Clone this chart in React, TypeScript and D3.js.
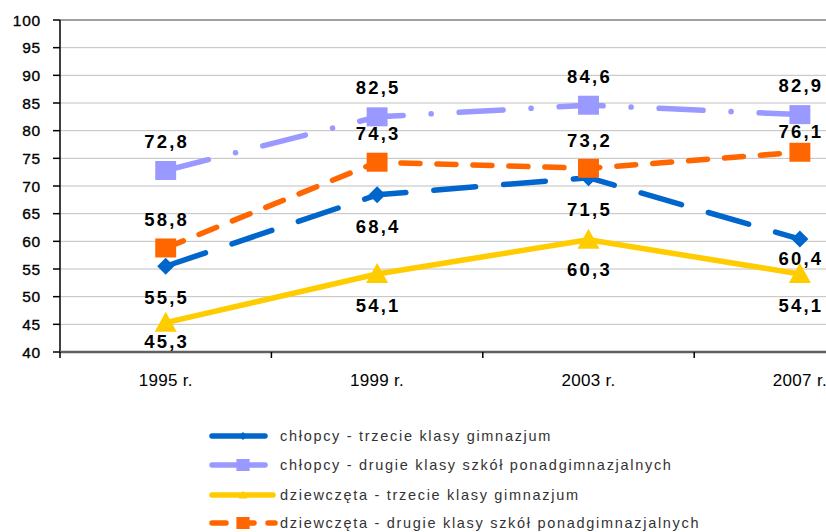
import React from "react";
import * as d3 from "d3";

const categories = ["1995 r.", "1999 r.", "2003 r.", "2007 r."];
const chlopcyGim = [55.5, 68.4, 71.5, 60.4];
const chlopcyPonad = [72.8, 82.5, 84.6, 82.9];
const dziewGim = [45.3, 54.1, 60.3, 54.1];
const dziewPonad = [58.8, 74.3, 73.2, 76.1];
const yTicks = [40, 45, 50, 55, 60, 65, 70, 75, 80, 85, 90, 95, 100];
const seriesNames = [
  "chłopcy - trzecie klasy gimnazjum",
  "chłopcy - drugie klasy szkół ponadgimnazjalnych",
  "dziewczęta - trzecie klasy gimnazjum",
  "dziewczęta - drugie klasy szkół ponadgimnazjalnych",
];

type Series = {
  name: string;
  values: number[];
  color: string;
  dash: string | null;
  legendDash: string | null;
  marker: "diamond" | "square" | "triangle";
  labelDy: number[];
};

const series: Series[] = [
  { name: seriesNames[0], values: chlopcyGim, color: "#0066cc", dash: "42,28", legendDash: null, marker: "diamond", labelDy: [31, 31, 32, 19] },
  { name: seriesNames[1], values: chlopcyPonad, color: "#9999ff", dash: "44,28,0.1,28", legendDash: null, marker: "square", labelDy: [-29, -29, -29, -29] },
  { name: seriesNames[2], values: dziewGim, color: "#ffcc00", dash: null, legendDash: null, marker: "triangle", labelDy: [19, 31, 30, 31] },
  { name: seriesNames[3], values: dziewPonad, color: "#ff6600", dash: "19,17", legendDash: "14,14", marker: "square", labelDy: [-29, -29, -28, -21] },
];

const left = 60;
const top = 20;
const bottom = 352;
const band = 211.4;

const x = d3.scaleBand<string>().domain(categories).range([left, left + band * categories.length]).padding(0);
const y = d3.scaleLinear().domain([40, 100]).range([bottom, top]);
const cx = (c: string) => (x(c) as number) + x.bandwidth() / 2;

function Marker({ kind, px, py, color, s }: { kind: string; px: number; py: number; color: string; s: number }) {
  if (kind === "square") {
    return <rect x={px - s * 0.55} y={py - s / 2} width={s * 1.1} height={s} fill={color} />;
  }
  if (kind === "diamond") {
    const r = s * 0.5;
    return <path d={`M${px},${py - r}L${px + r},${py}L${px},${py + r}L${px - r},${py}Z`} fill={color} />;
  }
  const h = s;
  return <path d={`M${px},${py - h * 0.55}L${px + s * 0.55},${py + h * 0.45}L${px - s * 0.55},${py + h * 0.45}Z`} fill={color} />;
}

export default function App() {
  const line = d3
    .line<number>()
    .x((_, i) => cx(categories[i]))
    .y((v) => y(v));
  const markerSize: Record<string, number> = { square: 19, diamond: 17, triangle: 20 };
  const legendMarker: Record<string, number> = { square: 12, diamond: 8, triangle: 8 };
  const legendY = [436, 465, 495, 523];
  return (
    <svg
      width={826}
      height={532}
      style={{ position: "absolute", left: 0, top: 0, background: "#fff" }}
      fontFamily="Liberation Sans, Arial, sans-serif"
    >
      <rect width={826} height={532} fill="#fff" />
      {/* gridlines */}
      {yTicks.slice(1, -1).map((t) => (
        <line key={t} x1={left} x2={826} y1={y(t)} y2={y(t)} stroke="#c0c0c0" strokeWidth={1} />
      ))}
      <line x1={left} x2={826} y1={y(100)} y2={y(100)} stroke="#808080" strokeWidth={1.5} />
      {/* y axis */}
      <line x1={left} x2={left} y1={top} y2={bottom} stroke="#000" strokeWidth={1.5} />
      {yTicks.map((t) => (
        <g key={t}>
          <line x1={left - 7} x2={left} y1={y(t)} y2={y(t)} stroke="#000" strokeWidth={1.5} />
          <text x={41} y={y(t)} dy="0.36em" textAnchor="end" fontSize={15.5} letterSpacing={0.8} fill="#000" stroke="#000" strokeWidth={0.35}>
            {t}
          </text>
        </g>
      ))}
      {/* x axis */}
      <line x1={left} x2={826} y1={bottom} y2={bottom} stroke="#606060" strokeWidth={2.5} />
      {categories.map((c) => (
        <line key={c} x1={x(c) as number} x2={x(c) as number} y1={bottom} y2={bottom + 6} stroke="#000" strokeWidth={1.5} />
      ))}
      {categories.map((c) => (
        <text key={c} x={cx(c)} y={380} dy="0.36em" textAnchor="middle" fontSize={17} letterSpacing={0.3} fill="#000">
          {c}
        </text>
      ))}
      {/* lines */}
      {series.map((s) => (
        <path
          key={s.name}
          d={line(s.values) || ""}
          fill="none"
          stroke={s.color}
          strokeWidth={5.5}
          strokeLinecap="round"
          strokeLinejoin="round"
          strokeDasharray={s.dash || undefined}
        />
      ))}
      {/* markers */}
      {series.map((s) =>
        s.values.map((v, i) => (
          <Marker key={s.name + i} kind={s.marker} px={cx(categories[i])} py={y(v)} color={s.color} s={markerSize[s.marker]} />
        ))
      )}
      {/* labels */}
      {series.map((s) =>
        s.values.map((v, i) => (
          <text
            key={"l" + s.name + i}
            x={cx(categories[i]) + 1}
            y={y(v) + s.labelDy[i]}
            dy="0.36em"
            textAnchor="middle"
            fontSize={18.5}
            fontWeight="bold"
            letterSpacing={2.2}
            fill="#000"
          >
            {d3.format(".1f")(v).replace(".", ",")}
          </text>
        ))
      )}
      {/* legend */}
      {series.map((s, i) => {
        const ly = legendY[i];
        const x2 = s.marker === "triangle" ? 273 : s.legendDash ? 275 : 265;
        return (
          <g key={"lg" + s.name}>
            <line
              x1={212}
              x2={x2}
              y1={ly}
              y2={ly}
              stroke={s.color}
              strokeWidth={5.5}
              strokeLinecap="round"
              strokeDasharray={s.legendDash || undefined}
            />
            <Marker kind={s.marker} px={243} py={ly} color={s.color} s={legendMarker[s.marker]} />
            <text x={280} y={ly} dy="0.36em" fontSize={14.5} letterSpacing={1.7} fill="#333">
              {s.name}
            </text>
          </g>
        );
      })}
    </svg>
  );
}
